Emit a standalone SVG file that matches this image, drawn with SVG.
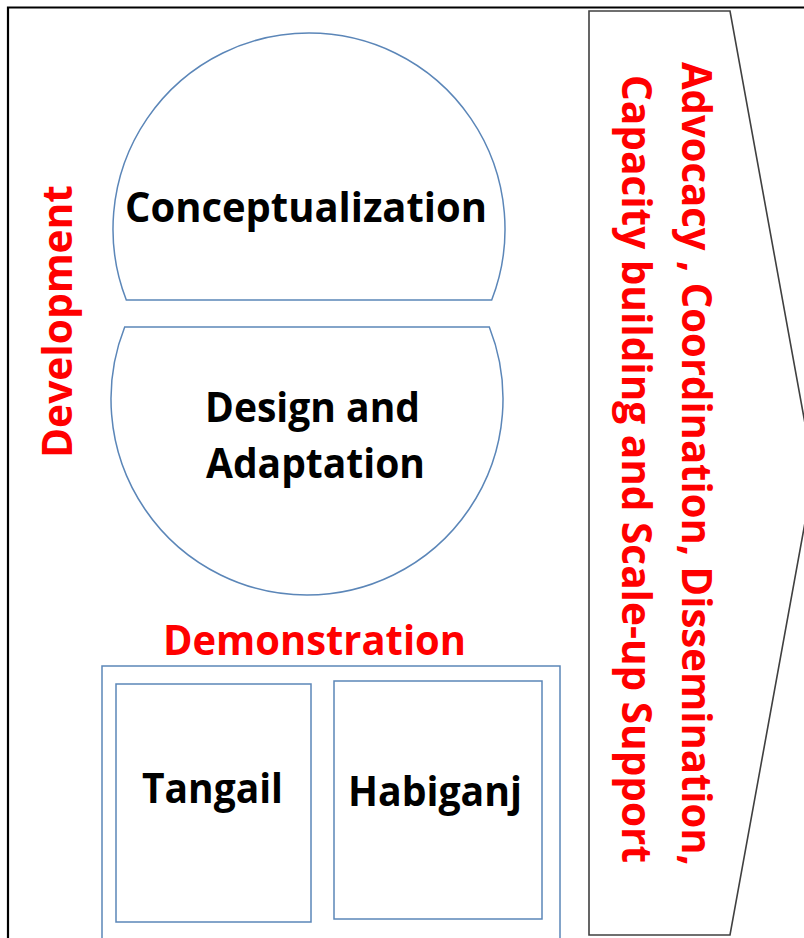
<svg xmlns="http://www.w3.org/2000/svg" width="804" height="938" viewBox="0 0 804 938">
  <style>
    .shape { fill: #ffffff; stroke: #5b86b8; stroke-width: 1.5; }
    .arrow { fill: #ffffff; stroke: #404040; stroke-width: 1.6; }
    .lbl { font-family: "Open Sans", "Noto Sans", "Liberation Sans", sans-serif; font-weight: 700; font-size: 42px; }
    .dark { fill: #000000; }
    .red { fill: #ff0000; }
  </style>
  <rect width="804" height="938" fill="#ffffff"/>

  <!-- outer frame -->
  <path d="M 8 938 L 8 7.5 L 804 7.5" fill="none" stroke="#000000" stroke-width="2.2"/>

  <!-- side arrow -->
  <g id="support-arrow">
    <polygon class="arrow" points="589,11 730,11 814,473 730,935 589,935"/>
    <text class="lbl red" transform="translate(682,62) rotate(90)" textLength="804" lengthAdjust="spacingAndGlyphs">Advocacy , Coordination, Dissemination,</text>
    <text class="lbl red" transform="translate(622,75) rotate(90)" textLength="788" lengthAdjust="spacingAndGlyphs">Capacity building and Scale-up Support</text>
  </g>

  <!-- development label -->
  <g id="development">
    <text class="lbl red" transform="translate(72,458) rotate(-90)" textLength="273" lengthAdjust="spacingAndGlyphs">Development</text>
  </g>

  <!-- upper segment -->
  <g id="conceptualization">
    <path class="shape" d="M 126.3 300 A 196 196 0 1 1 491.7 300 Z"/>
    <text class="lbl dark" x="125" y="222" textLength="362" lengthAdjust="spacingAndGlyphs">Conceptualization</text>
  </g>

  <!-- lower segment -->
  <g id="design-adaptation">
    <path class="shape" d="M 124.7 327 L 489.3 327 A 196 196 0 1 1 124.7 327 Z"/>
    <text class="lbl dark" x="205" y="422" textLength="215" lengthAdjust="spacingAndGlyphs">Design and</text>
    <text class="lbl dark" x="206" y="478" textLength="219" lengthAdjust="spacingAndGlyphs">Adaptation</text>
  </g>

  <!-- demonstration sites -->
  <g id="demonstration">
    <text class="lbl red" x="163" y="655" textLength="303" lengthAdjust="spacingAndGlyphs">Demonstration</text>
    <rect class="shape" x="102" y="666" width="458" height="300"/>
  </g>
  <g id="tangail">
    <rect class="shape" x="116" y="684" width="195" height="238"/>
    <text class="lbl dark" x="142" y="803" textLength="141" lengthAdjust="spacingAndGlyphs">Tangail</text>
  </g>
  <g id="habiganj">
    <rect class="shape" x="334" y="681" width="208" height="238"/>
    <text class="lbl dark" x="348" y="806" textLength="174" lengthAdjust="spacingAndGlyphs">Habiganj</text>
  </g>

  <g id="connectors"/>
</svg>
